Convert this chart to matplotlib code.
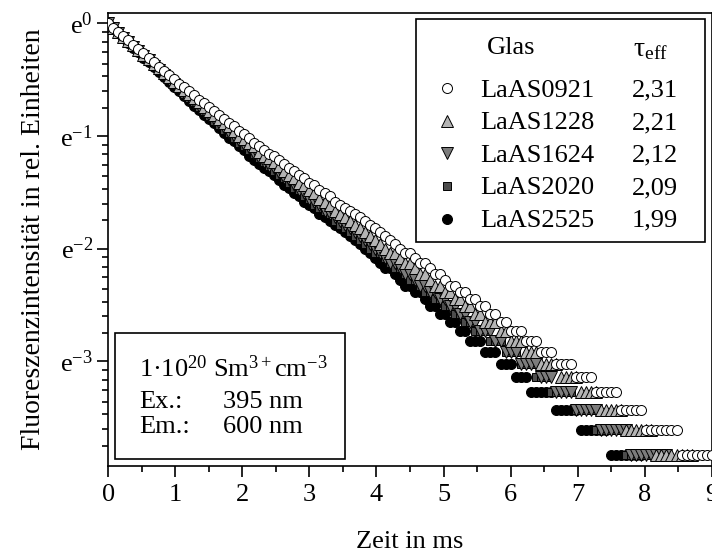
import numpy as np
import matplotlib.pyplot as plt
import matplotlib.ticker as ticker
from matplotlib.patches import Rectangle

plt.rcParams['font.family'] = ['Liberation Serif', 'DejaVu Serif']
plt.rcParams['mathtext.fontset'] = 'custom'
plt.rcParams['mathtext.rm'] = 'Liberation Serif'
plt.rcParams['mathtext.it'] = 'Liberation Serif:italic'
plt.rcParams['mathtext.bf'] = 'Liberation Serif:bold'

# --- Daten: Fluoreszenzabklingen, Zaehlrate (185 = Maximum), Abtastung 0,075 ms ---
dt = 0.075
full_scale = 185.0

glas = ['LaAS0921', 'LaAS1228', 'LaAS1624', 'LaAS2020', 'LaAS2525']
tau_eff = ['2,31', '2,21', '2,12', '2,09', '1,99']

counts_0921 = [185, 178, 171, 165, 159, 153, 147, 142, 136, 131, 126, 121, 117, 113,
               108, 105, 101, 98, 94, 91, 88, 85, 82, 79, 76, 74, 71,
               69, 67, 64, 62, 60, 58, 57, 55, 53, 51, 50, 48, 47, 45,
               44, 42, 41, 40, 38, 37, 36, 35, 34, 33, 32, 31, 30,
               29, 28, 27, 26, 25, 24, 24, 23, 22, 22, 21, 20, 20, 19, 18, 18,
               17, 17, 16, 16, 15, 15, 14, 14, 13, 13,
               12, 12, 12, 11, 11, 11, 10, 10, 10, 9, 9, 9, 9, 8, 8, 8, 8,
               7, 7, 7, 7, 7, 6, 6, 6, 6, 6,
               5, 5, 5, 5, 5, 5, 5, 4, 4, 4, 4, 4, 4, 4]
counts_1228 = [185, 178, 171, 164, 158, 152, 146, 140, 135, 129, 124, 119, 115, 110,
               106, 102, 99, 95, 92, 88, 85, 82, 79, 76, 74, 71, 68,
               66, 64, 62, 59, 57, 56, 54, 52, 50, 48, 47, 45, 44, 42,
               41, 39, 38, 37, 35, 34, 33, 32, 31, 30, 29, 28, 27,
               26, 25, 24, 24, 23, 22, 22, 21, 20, 20, 19, 18, 18, 17, 17, 16,
               16, 15, 15, 14, 14, 13, 13, 13, 12, 12,
               11, 11, 11, 10, 10, 10, 9, 9, 9, 9, 8, 8, 8, 8,
               7, 7, 7, 7, 6, 6, 6, 6, 6, 5, 5, 5, 5,
               5, 5, 4, 4, 4, 4, 4, 4, 4, 4, 3, 3, 3, 3]
counts_1624 = [185, 177, 170, 163, 157, 150, 144, 138, 133, 127, 122, 117, 112, 108,
               104, 100, 96, 92, 89, 85, 82, 79, 76, 73, 70, 68, 65,
               63, 61, 58, 56, 54, 52, 51, 49, 47, 46, 44, 42, 41, 39,
               38, 37, 35, 34, 33, 32, 31, 30, 29, 28, 27, 26, 25,
               24, 23, 22, 22, 21, 20, 20, 19, 18, 18, 17, 17, 16, 16, 15, 15,
               14, 14, 13, 13, 12, 12, 12, 11, 11, 10,
               10, 10, 9, 9, 9, 9, 8, 8, 8, 7, 7, 7, 7, 6,
               6, 6, 6, 6, 5, 5, 5, 5, 5, 5,
               4, 4, 4, 4, 4, 4, 4, 4,
               3, 3, 3, 3, 3, 3, 3, 3, 3]
counts_2020 = [185, 177, 170, 163, 156, 150, 144, 138, 132, 127, 122, 117, 112, 107,
               103, 99, 95, 92, 88, 85, 81, 78, 75, 72, 70, 67, 64,
               62, 60, 58, 56, 54, 52, 50, 48, 47, 45, 43, 42, 40, 39,
               37, 36, 35, 34, 32, 31, 30, 29, 28, 27, 26, 25, 24,
               24, 23, 22, 21, 21, 20, 19, 19, 18, 17, 17, 16, 16, 15, 15, 14,
               14, 13, 13, 12, 12, 12, 11, 11, 11, 10,
               10, 10, 9, 9, 9, 8, 8, 8, 7, 7, 7, 7, 7,
               6, 6, 6, 6, 5, 5, 5, 5, 5, 5,
               4, 4, 4, 4, 4, 4, 4, 4,
               3, 3, 3, 3, 3, 3, 3, 3, 3, 2]
counts_2525 = [185, 177, 170, 162, 155, 149, 143, 136, 131, 125, 120, 115, 110, 105,
               101, 97, 93, 89, 86, 82, 79, 76, 73, 70, 67, 65, 62,
               60, 57, 55, 53, 51, 50, 48, 46, 44, 43, 41, 40, 38, 37,
               36, 34, 33, 32, 31, 30, 29, 28, 27, 26, 25, 24, 23,
               22, 21, 21, 20, 19, 18, 18, 17, 17, 16, 15, 15, 14, 14, 13, 13,
               12, 12, 11, 11, 11, 10, 10, 10, 9, 9,
               9, 8, 8, 8, 7, 7, 7, 7, 7,
               6, 6, 6, 6, 6, 5, 5, 5, 5, 5, 5,
               4, 4, 4, 4, 4, 4, 4,
               3, 3, 3, 3, 3, 3, 3, 3, 3, 3,
               2, 2, 2, 2]

counts = [counts_0921, counts_1228, counts_1624, counts_2020, counts_2525]

# Symbole wie im Original (Origin-Stil)
marker = ['o', '^', 'v', 's', 'o']
face = ['white', '#b4b4b4', '#7c7c7c', '#4c4c4c', 'black']
msize = [7.2, 8.2, 8.2, 6.4, 7.2]
fs = 19

fig = plt.figure(figsize=(7.12, 5.56), dpi=100)
ax = fig.add_axes([0.1521, 0.1619, 0.8475, 0.8153])

# LaAS2525 zuerst, LaAS0921 zuletzt (oben)
for i in reversed(range(len(glas))):
    c = np.array(counts[i], dtype=float)
    t = np.arange(len(c)) * dt
    ax.plot(t, c / full_scale, linestyle='none', marker=marker[i], ms=msize[i],
            mfc=face[i], mec='black', mew=0.7, zorder=2 + (len(glas) - i))

ax.set_yscale('log', base=np.e)
ax.set_xlim(0, 9)
ax.set_ylim(np.exp(-3.93), np.exp(0.094))

ax.xaxis.set_major_locator(ticker.MultipleLocator(1))
ax.xaxis.set_minor_locator(ticker.MultipleLocator(0.5))
ax.yaxis.set_major_locator(ticker.FixedLocator(np.exp([0, -1, -2, -3])))
minor = [np.exp(-n) * (1 - k * 0.0753) for n in range(4) for k in range(1, 8)]
ax.yaxis.set_minor_locator(ticker.FixedLocator(minor))
ax.yaxis.set_major_formatter(ticker.FuncFormatter(
    lambda v, pos: r'e$^{\mathregular{%d}}$' % int(round(np.log(v)))))
ax.yaxis.set_minor_formatter(ticker.NullFormatter())

ax.tick_params(which='both', direction='out', top=False, right=False,
               width=1.2, labelsize=fs)
ax.tick_params(which='major', length=8)
ax.tick_params(axis='x', which='major', pad=5)
ax.tick_params(axis='y', which='major', pad=3)
ax.tick_params(which='minor', length=4.5)
for sp in ax.spines.values():
    sp.set_linewidth(1.2)

ax.set_xlabel('Zeit in ms', fontsize=fs, labelpad=18)
ax.set_ylabel('Fluoreszenzintensität in rel. Einheiten', fontsize=20, labelpad=10)

# --- Legende rechts oben ---
ax.add_patch(Rectangle((0.510, 0.494), 0.479, 0.492, transform=ax.transAxes,
                       facecolor='white', edgecolor='black', lw=1.2, zorder=10))
ax.text(0.628, 0.908, 'Glas', transform=ax.transAxes, fontsize=fs,
        va='baseline', zorder=11)
ax.text(0.870, 0.904, 'τ$_{\\mathregular{eff}}$', transform=ax.transAxes,
        fontsize=fs + 1, va='baseline', zorder=11)
for i in range(len(glas)):
    yb = 0.815 - i * 0.0718
    ax.plot([0.561], [yb + 0.018], transform=ax.transAxes, linestyle='none',
            marker=marker[i], ms=msize[i], mfc=face[i], mec='black',
            mew=0.7, clip_on=False, zorder=11)
    ax.text(0.616, yb, glas[i], transform=ax.transAxes, fontsize=fs,
            va='baseline', zorder=11)
    ax.text(0.868, yb, tau_eff[i], transform=ax.transAxes, fontsize=fs,
            va='baseline', zorder=11)

# --- Messbedingungen links unten ---
ax.add_patch(Rectangle((0.011, 0.0154), 0.381, 0.2776, transform=ax.transAxes,
                       facecolor='white', edgecolor='black', lw=1.2, zorder=10))
ax.text(0.0514, 0.197, '1·10$^{\\mathregular{20}}$ Sm$^{\\mathregular{3+}}$cm$^{\\mathregular{-3}}$',
        transform=ax.transAxes, fontsize=fs, va='baseline', zorder=11)
ax.text(0.0514, 0.127, 'Ex.:', transform=ax.transAxes, fontsize=fs,
        va='baseline', zorder=11)
ax.text(0.1906, 0.127, '395 nm', transform=ax.transAxes, fontsize=fs,
        va='baseline', zorder=11)
ax.text(0.0514, 0.0721, 'Em.:', transform=ax.transAxes, fontsize=fs,
        va='baseline', zorder=11)
ax.text(0.1906, 0.0721, '600 nm', transform=ax.transAxes, fontsize=fs,
        va='baseline', zorder=11)

fig.savefig('out.png', dpi=100)
